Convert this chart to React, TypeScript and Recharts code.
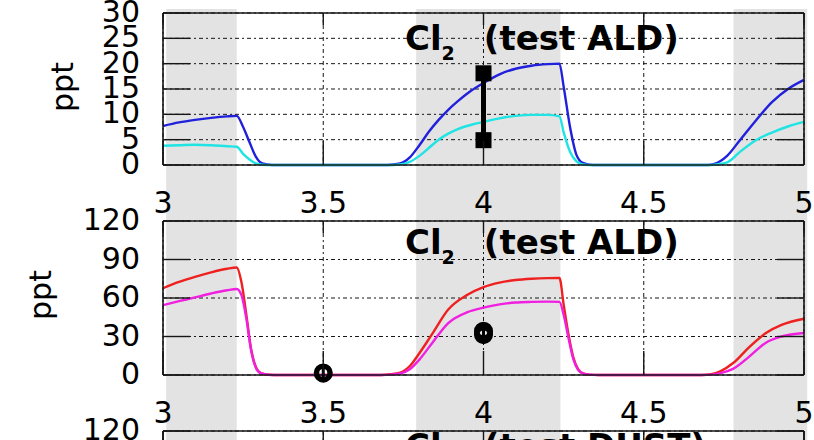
import React from 'react';
import { ComposedChart, LineChart, Line, Scatter, XAxis, YAxis, CartesianGrid, ReferenceArea } from 'recharts';

const FONT = '"DejaVu Sans", sans-serif';
const W = 814;
const AXIS_W = 163;
const RIGHT_W = 10;
const PLOT_RIGHT = W - RIGHT_W;
const INK = '#161616';

const xTicks = [3, 3.5, 4, 4.5, 5];

// shaded windows behind all panels
const bandStart = [3.01, 3.79, 4.78];
const bandEnd = [3.23, 4.24, 5.01];

// Cl2 (test ALD), upper panel
const topX = [3.0, 3.05, 3.1, 3.15, 3.2, 3.23, 3.25, 3.27, 3.29, 3.31, 3.34, 3.5, 3.7, 3.74, 3.77, 3.8, 3.83, 3.86, 3.89, 3.92, 3.96,
  4.0, 4.05, 4.1, 4.15, 4.2, 4.237, 4.25, 4.27, 4.29, 4.31, 4.34, 4.5, 4.7, 4.72, 4.76, 4.8, 4.85, 4.9, 4.95, 5.0];
const topBlue = [7.7, 8.4, 8.9, 9.3, 9.6, 9.7, 7.5, 4.5, 1.6, 0.3, 0, 0, 0, 0.3, 1.5, 3.9, 6.6, 8.9, 10.9, 12.6, 14.6,
  16.2, 17.9, 19.0, 19.6, 19.9, 20.0, 15.5, 7.5, 2.0, 0.4, 0, 0, 0, 0.2, 1.8, 4.9, 8.8, 12.4, 15.0, 16.8];
const topCyan = [3.8, 3.9, 4.0, 3.9, 3.7, 3.6, 2.2, 1.1, 0.3, 0.05, 0, 0, 0, 0.1, 0.6, 1.8, 3.4, 5.0, 6.2, 7.1, 7.9,
  8.5, 9.2, 9.7, 9.9, 9.9, 9.6, 6.5, 2.6, 0.7, 0.1, 0, 0, 0, 0.05, 0.5, 2.6, 4.9, 6.4, 7.6, 8.5];
const topYTicks = [0, 5, 10, 15, 20, 25, 30];
const topBarX = [4, 4];
const topBarY = [18.1, 4.9];

// Cl2 (test ALD), middle panel
const midX = [3.0, 3.05, 3.1, 3.15, 3.2, 3.23, 3.245, 3.26, 3.275, 3.29, 3.305, 3.33, 3.36, 3.5, 3.68, 3.71, 3.74, 3.77, 3.8, 3.84, 3.89, 3.95,
  4.0, 4.05, 4.1, 4.15, 4.2, 4.237, 4.25, 4.265, 4.28, 4.295, 4.31, 4.33, 4.36, 4.5, 4.68, 4.71, 4.74, 4.78, 4.83, 4.88, 4.93, 5.0];
const midRed = [67.6, 72.5, 76.5, 80, 82.8, 83.8, 72, 47, 20, 6, 1.5, 0.2, 0, 0, 0, 0.6, 1.8, 7, 17, 32, 51, 62.5,
  68.5, 72, 74, 75, 75.5, 75.6, 55, 32, 14, 4.5, 1.3, 0.3, 0, 0, 0, 0.6, 3, 9.5, 22, 32.5, 39, 43.8];
const midMagenta = [54.5, 57.5, 60.5, 63.5, 66, 67, 62, 44, 19, 5.5, 1.4, 0.2, 0, 0, 0, 0.3, 1.2, 4.5, 12, 25, 40.5, 49,
  52.5, 55, 56.5, 57, 57.2, 57, 47, 29, 12.5, 4, 1.2, 0.3, 0, 0, 0, 0.3, 1.5, 5, 14.5, 25, 30, 32.7];
const midYTicks = [0, 30, 60, 90, 120];
const midPointX = [3.5, 4, 4];
const midPointY = [1.5, 31.5, 34];

// Cl2 (test DUST), lower panel
const lowYTicks = [0, 30, 60, 90, 120];

const topData = topX.map((x, i) => ({ x, blue: topBlue[i], cyan: topCyan[i] }));
const topBar = topBarX.map((x, i) => ({ x, y: topBarY[i] }));
const midData = midX.map((x, i) => ({ x, red: midRed[i], magenta: midMagenta[i] }));
const midPoints = midPointX.map((x, i) => ({ x, y: midPointY[i] }));
const bands = bandStart.map((s, i) => ({ s, e: bandEnd[i] }));

const YTick = (props: any) => {
  const { x, y, payload } = props;
  return (
    <g>
      <line x1={x} x2={x + 27} y1={y} y2={y} stroke={INK} strokeWidth={1.4} />
      <line x1={PLOT_RIGHT - 27} x2={PLOT_RIGHT} y1={y} y2={y} stroke={INK} strokeWidth={1.4} />
      <text x={x - 23} y={y + 9} textAnchor="end" fontSize={30} fontFamily={FONT} fill="#000">
        {payload.value}
      </text>
    </g>
  );
};

const makeXTick = (plotTop: number) => (props: any) => {
  const { x, y, payload } = props;
  return (
    <g>
      <line x1={x} x2={x} y1={y} y2={y - 24} stroke={INK} strokeWidth={1.4} />
      <line x1={x} x2={x} y1={plotTop} y2={plotTop + 12} stroke={INK} strokeWidth={1.4} />
      <text x={x} y={y + 47.5} textAnchor="middle" fontSize={30} fontFamily={FONT} fill="#000">
        {payload.value}
      </text>
    </g>
  );
};

const squareMark = (p: any) => <rect x={p.cx - 8} y={p.cy - 8} width={16} height={16} fill="#000" />;

// thick open circle with the error-bar stroke through it
const ringMark = (p: any) => (
  <g>
    <circle cx={p.cx} cy={p.cy} r={6.8} fill="none" stroke="#000" strokeWidth={5.5} />
    <line x1={p.cx} x2={p.cx} y1={p.cy - 9} y2={p.cy + 9} stroke="#000" strokeWidth={3} />
  </g>
);

const Title = ({ y, label }: { y: number; label: string }) => (
  <text x={405} y={y} fontSize={34} fontWeight="bold" fontFamily={FONT} fill="#000">
    Cl
    <tspan dy={10} fontSize={19}>2</tspan>
    <tspan dx={29} dy={-10}>{label}</tspan>
  </text>
);

const PptLabel = ({ x, y }: { x: number; y: number }) => (
  <text x={x} y={y} transform={`rotate(-90, ${x}, ${y})`} textAnchor="middle" dominantBaseline="central"
    fontSize={30} fontFamily={FONT} fill="#000">
    ppt
  </text>
);

// axes, grid and frame shared by the three panels; `fixed` pins the domains for a panel without series
const frame = (plotTop: number, yMax: number, yTicks: number[], fixed = false) => [
  <CartesianGrid key="grid" stroke={INK} strokeWidth={1} strokeDasharray="4 3 2 3" />,
  <XAxis key="xb" dataKey="x" type="number" domain={[3, 5]} allowDataOverflow={fixed} ticks={xTicks} height={65}
    tickSize={0} tickMargin={0} axisLine={{ stroke: INK, strokeWidth: 1.6 }} tickLine={false}
    tick={makeXTick(plotTop)} interval={0} />,
  <XAxis key="xt" xAxisId="top" orientation="top" dataKey="x" type="number" domain={[3, 5]} allowDataOverflow={fixed}
    height={plotTop} axisLine={{ stroke: INK, strokeWidth: 1.6 }} tick={false} tickLine={false} />,
  <YAxis key="yl" type="number" domain={[0, yMax]} allowDataOverflow={fixed} ticks={yTicks} width={AXIS_W} tickSize={0}
    tickMargin={0} axisLine={{ stroke: INK, strokeWidth: 1.6 }} tickLine={false} tick={YTick} interval={0} />,
  <YAxis key="yr" yAxisId="right" orientation="right" type="number" domain={[0, yMax]} allowDataOverflow
    width={RIGHT_W} axisLine={{ stroke: INK, strokeWidth: 1.6 }} tick={false} tickLine={false} />,
];

export default function App() {
  return (
    <div style={{ position: 'absolute', left: 0, top: 0, width: W, height: 440, overflow: 'hidden', background: '#fff' }}>
      <div style={{ position: 'absolute', left: 0, top: 9 }}>
        <LineChart width={W} height={431} data={bands} margin={{ top: 0, right: RIGHT_W, bottom: 0, left: AXIS_W }}>
          <XAxis dataKey="s" type="number" domain={[3, 5]} allowDataOverflow hide />
          <YAxis type="number" domain={[0, 1]} allowDataOverflow hide />
          {bands.map((b, i) => (
            <ReferenceArea key={i} x1={b.s} x2={b.e} y1={0} y2={1} fill="#e3e3e3" fillOpacity={1}
              stroke="none" ifOverflow="visible" />
          ))}
        </LineChart>
      </div>

      <div style={{ position: 'absolute', left: 0, top: 0 }}>
        <ComposedChart width={W} height={230} data={topData} margin={{ top: 0, right: 0, bottom: 0, left: 0 }}>
          {frame(13, 30, topYTicks)}
          <Line type="monotone" dataKey="blue" stroke="#2020dd" strokeWidth={2.4} dot={false} isAnimationActive={false} />
          <Line type="monotone" dataKey="cyan" stroke="#20e4e4" strokeWidth={2.4} dot={false} isAnimationActive={false} />
          <Scatter data={topBar} dataKey="y" shape={squareMark} line={{ stroke: '#000', strokeWidth: 5 }}
            isAnimationActive={false} />
          <Title y={50} label="(test ALD)" />
          <PptLabel x={62} y={87} />
        </ComposedChart>
      </div>

      <div style={{ position: 'absolute', left: 0, top: 200 }}>
        <ComposedChart width={W} height={240} data={midData} margin={{ top: 0, right: 0, bottom: 0, left: 0 }}>
          {frame(21, 120, midYTicks)}
          <Line type="monotone" dataKey="red" stroke="#ee2020" strokeWidth={2.4} dot={false} isAnimationActive={false} />
          <Line type="monotone" dataKey="magenta" stroke="#f020e0" strokeWidth={2.4} dot={false} isAnimationActive={false} />
          <Scatter data={midPoints} dataKey="y" shape={ringMark} isAnimationActive={false} />
          <Title y={54} label="(test ALD)" />
          <PptLabel x={40} y={95} />
        </ComposedChart>
      </div>

      <div style={{ position: 'absolute', left: 0, top: 400 }}>
        <ComposedChart width={W} height={250} data={[{ x: 3 }, { x: 5 }]} margin={{ top: 0, right: 0, bottom: 0, left: 0 }}>
          {frame(31, 120, lowYTicks, true)}
          <Title y={58} label="(test DUST)" />
        </ComposedChart>
      </div>
    </div>
  );
}
